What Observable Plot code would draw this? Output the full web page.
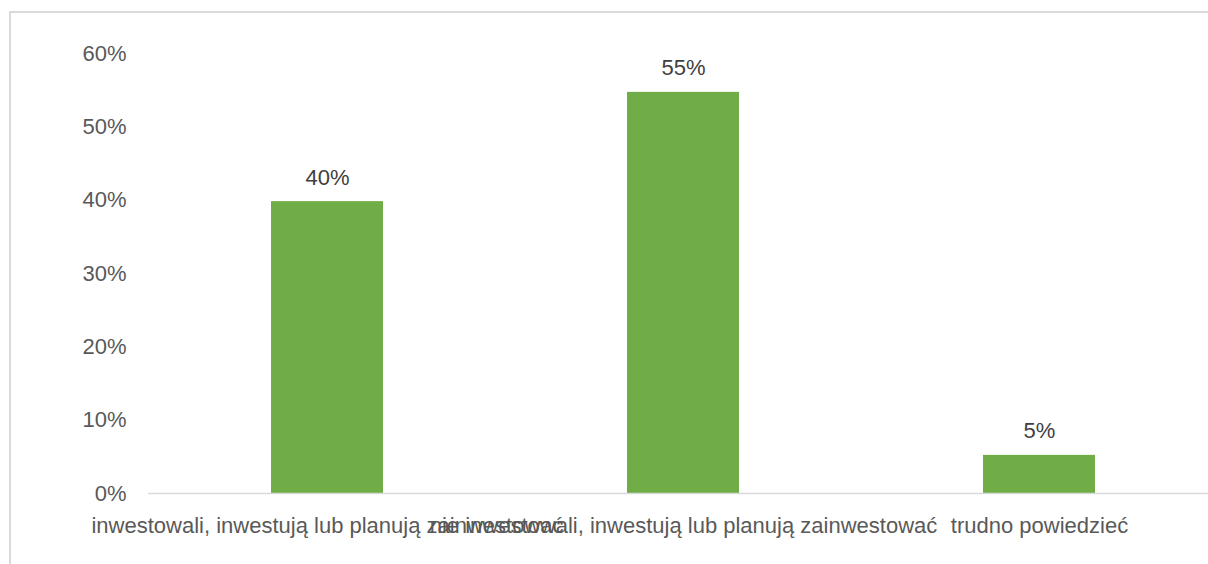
<!DOCTYPE html>
<html>
<head>
<meta charset="utf-8">
<script src="https://cdn.jsdelivr.net/npm/d3@7"></script>
<script src="https://cdn.jsdelivr.net/npm/@observablehq/plot@0.6"></script>
<style>
  html, body { margin: 0; padding: 0; background: #fff; overflow: hidden; }
  #wrap { position: relative; width: 1208px; height: 564px; overflow: hidden; }
  #border { position: absolute; left: 9px; top: 11px; width: 1300px; height: 700px;
            border: 2px solid #d9d9d9; box-sizing: border-box; pointer-events: none; }
  #chart { position: absolute; left: 0; top: 0; }
</style>
</head>
<body>
<div id="wrap">
  <div id="chart"></div>
  <div id="border"></div>
</div>
<script>
const categories = [
  "inwestowali, inwestują lub planują zainwestować",
  "nie inwestowali, inwestują lub planują zainwestować",
  "trudno powiedzieć"
];
const values = [0.398, 0.547, 0.052];
const yTicks = [0, 0.1, 0.2, 0.3, 0.4, 0.5, 0.6];

const data = categories.map((c, i) => ({category: c, value: values[i]}));
const pct = d3.format(".0%");

const chart = Plot.plot({
  width: 1208,
  height: 564,
  marginTop: 53,
  marginBottom: 71,
  marginLeft: 148,
  marginRight: 0,
  style: {fontFamily: "'Liberation Sans', Arial, sans-serif", fontSize: "22px", color: "#595959", background: "transparent"},
  x: {domain: categories, range: [148, 1217.5], paddingInner: 0.686, paddingOuter: 0.343, align: 0.5},
  y: {domain: [0, 0.6]},
  marks: [
    Plot.barY(data, {x: "category", y: "value", fill: "#70AD47"}),
    Plot.ruleY([0], {stroke: "#d9d9d9", strokeWidth: 1.5}),
    Plot.text(data, {x: "category", y: "value", text: d => pct(d.value), dy: -24, fill: "#404040", fontSize: 22}),
    Plot.axisY({ticks: yTicks, tickFormat: pct, tickSize: 0, tickPadding: 22, label: null, fontSize: 22}),
    Plot.axisX({tickSize: 0, tickPadding: 24, label: null, fontSize: 22, fill: "#595959"})
  ]
});
document.getElementById("chart").appendChild(chart);
</script>
</body>
</html>
